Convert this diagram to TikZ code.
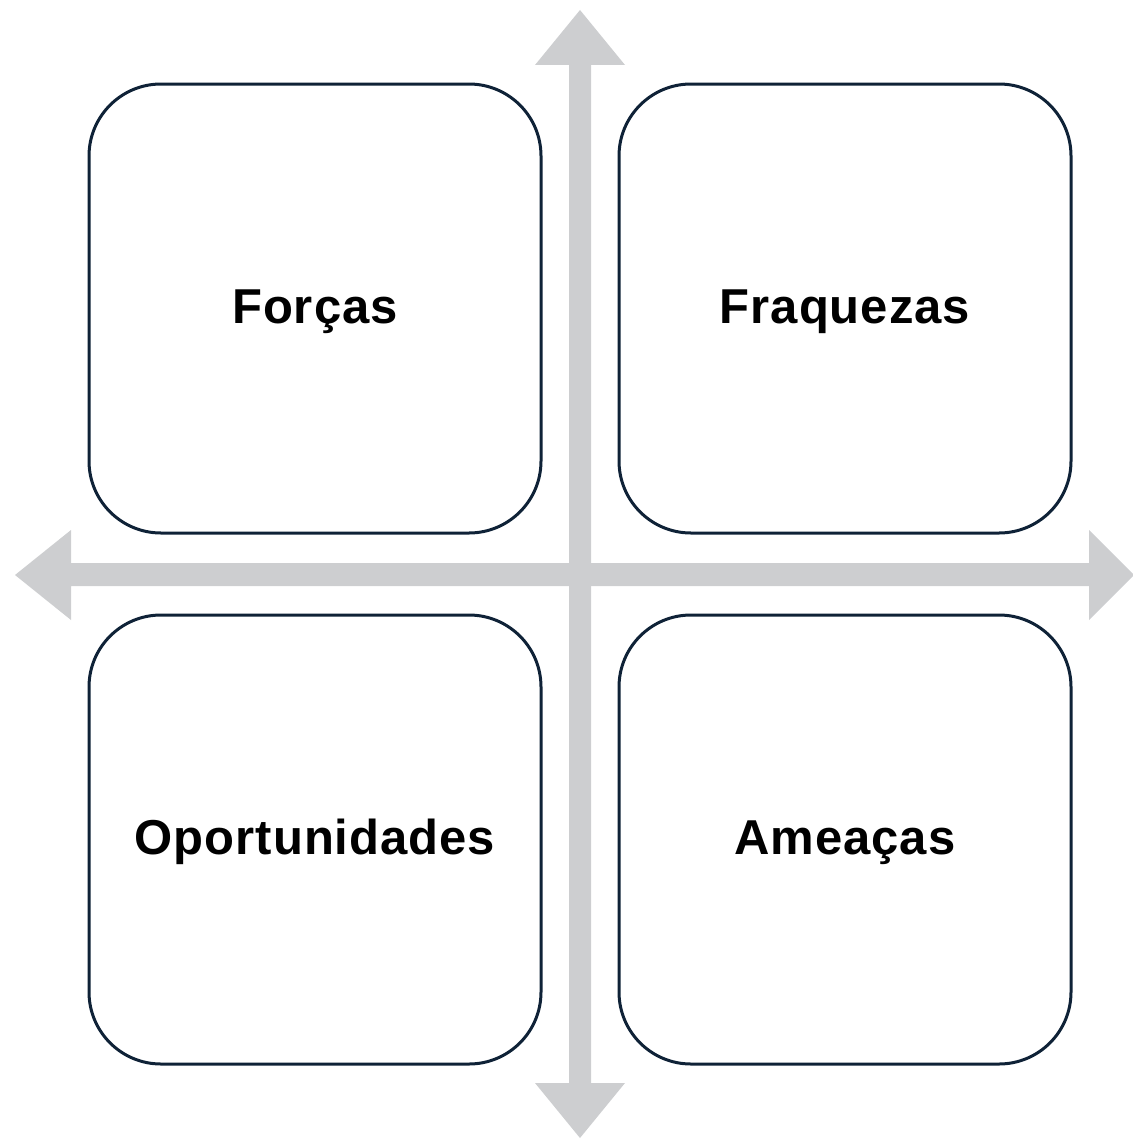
\documentclass[tikz,border=0pt]{standalone}
\usepackage{fontspec}
\setmainfont{Liberation Sans}[LetterSpace=2]
\definecolor{axisgray}{HTML}{CDCED0}
\definecolor{boxnavy}{HTML}{0F2237}
\begin{document}
\begin{tikzpicture}[x=1pt,y=-1pt,
  quad/.style={draw=boxnavy,line width=3pt,rounded corners=72pt,fill=white,minimum width=452pt,minimum height=449pt,inner sep=0pt,text height=35pt,text depth=0pt,font=\fontsize{49}{58}\selectfont\bfseries},
  qlabel/.style={inner sep=0pt,text height=35pt,text depth=0pt,yshift=3pt,font=\fontsize{49}{58}\selectfont\bfseries}]
\useasboundingbox (0,0) rectangle (1132,1140);
% vertical axis
\fill[axisgray] (569,65) -- (535,65) -- (580,10) -- (625,65) -- (591,65) -- (591,1083) -- (625,1083) -- (580,1138) -- (535,1083) -- (569,1083) -- cycle;
% horizontal axis
\fill[axisgray] (71,563) -- (71,530) -- (15,575) -- (71,620) -- (71,586) -- (1089,586) -- (1089,620) -- (1134,575) -- (1089,530) -- (1089,563) -- cycle;
\node[quad] (f) at (315,308.5) {};
\node[quad] (w) at (845,308.5) {};
\node[quad] (o) at (315,839.5) {};
\node[quad] (t) at (845,839.5) {};
\node[qlabel] (fl) at (f.center) {Forças};
\node[qlabel] (wl) at (w.center) {Fraquezas};
\node[qlabel] (ol) at (o.center) {Oportunidades};
\node[qlabel] (tl) at (t.center) {Ameaças};
\end{tikzpicture}
\end{document}
